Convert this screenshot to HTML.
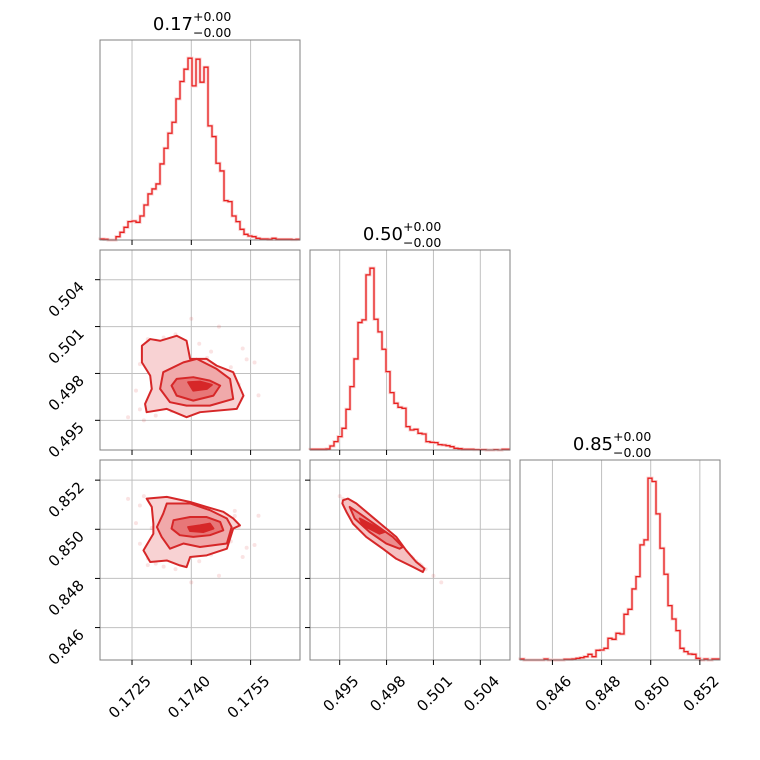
<!DOCTYPE html>
<html><head><meta charset="utf-8"><style>
html,body{margin:0;padding:0;background:#fff;}
svg{display:block;font-family:"DejaVu Sans","Liberation Sans",sans-serif;}
</style></head><body>
<svg id="chart" width="760" height="760" viewBox="0 0 760 760" xmlns="http://www.w3.org/2000/svg">
<rect width="760" height="760" fill="#fff"/>
<g id="layer"></g>
</svg>
<script>
// ---- data ----
const dom1 = [0.17169, 0.17675];
const dom2 = [0.49310, 0.50590];
const dom3 = [0.84468, 0.85282];
const ticks1 = [0.1725, 0.1740, 0.1755];
const ticks2 = [0.495, 0.498, 0.501, 0.504];
const ticks3 = [0.846, 0.848, 0.850, 0.852];
const tickLabels1 = ["0.1725", "0.1740", "0.1755"];
const tickLabels2 = ["0.495", "0.498", "0.501", "0.504"];
const tickLabels3 = ["0.846", "0.848", "0.850", "0.852"];
const titles = ["0.17", "0.50", "0.85"];
const titleUp = ["+0.00", "+0.00", "+0.00"];
const titleDown = ["\u22120.00", "\u22120.00", "\u22120.00"];
const hist1 = [3,2,0,0,10,23,38,55,57,53,72,105,138,153,168,228,275,320,353,423,475,512,545,462,542,473,518,342,310,230,207,118,115,72,55,32,17,12,10,5,3,3,2,5,2,2,2,2,1,2];
const hist2 = [2,2,2,2,3,12,25,40,65,122,190,273,382,390,525,545,392,354,302,235,172,140,128,125,70,60,62,50,48,25,23,22,16,15,13,10,5,4,2,2,2,1,1,1,0,0,1,0,2,2];
const hist3 = [3,0,0,0,0,0,3,0,0,0,0,2,2,3,5,7,10,17,10,29,30,35,65,62,80,78,137,152,213,250,345,360,545,535,438,335,257,163,123,88,35,25,18,17,5,0,3,0,3,3];
const s1 = [.1728,.1731,.1735,.1738,.1742,.1745,.1748,.1751,.1733,.1740,.1744,.1737,.1747,.1752,.1730,.1736,.1741,.1749,.1743,.1739,.1734,.1746,.1750,.1727,.1732,.1744,.1738,.1753,.1742,.1729,.1736,.1747,.1740,.1757,.1726,.1745,.1735,.1741,.1749,.1731,.1733,.1729,.1736,.1751,.1754,.1731,.1727,.1745,.1738,.1756,.1724,.1734,.1748,.1742];
const s2 = [.4950,.4953,.4956,.4958,.4960,.4962,.4964,.4965,.4967,.4968,.4970,.4971,.4972,.4973,.4974,.4975,.4976,.4977,.4978,.4979,.4980,.4982,.4984,.4986,.4988,.4990,.4993,.4996,.4999,.5002,.5005,.5010,.5015,.4966,.4969,.4974,.4978,.4981,.4963,.4970,.5003,.4997,.4985,.4961,.4989,.5001,.4957,.4994,.4983,.4987,.4952,.4991,.4968,.4976];
const s3 = [.85135,.85119,.85103,.85092,.85081,.85070,.85059,.85054,.85043,.85038,.85027,.85022,.85016,.85011,.85005,.85000,.84995,.84989,.84984,.84978,.84973,.84962,.84951,.84941,.84930,.84919,.84903,.84887,.84870,.84854,.84838,.84811,.84784,.85055,.85025,.85012,.84976,.84975,.85058,.85035,.84848,.84881,.84946,.85075,.84925,.84860,.85097,.84897,.84957,.84936,.85124,.84914,.85040,.84992];
const cA_outer = [[.17275,.49977],[.17296,.50020],[.17321,.50009],[.17363,.50041],[.17388,.50009],[.17397,.49893],[.17439,.49893],[.17464,.49850],[.17506,.49808],[.17532,.49658],[.17515,.49573],[.17422,.49552],[.17388,.49520],[.17338,.49573],[.17287,.49552],[.17283,.49605],[.17300,.49701],[.17296,.49786],[.17275,.49871]];
const cA_mid = [[.17329,.49808],[.17380,.49871],[.17414,.49893],[.17464,.49829],[.17498,.49765],[.17506,.49637],[.17447,.49594],[.17388,.49594],[.17346,.49616],[.17321,.49701]];
const cA_in = [[.17363,.49765],[.17405,.49776],[.17447,.49754],[.17473,.49722],[.17456,.49658],[.17405,.49626],[.17363,.49658],[.17350,.49722]];
const cA_core = [[.17392,.49744],[.17422,.49748],[.17452,.49727],[.17439,.49701],[.17405,.49690]];
const cB_outer = [[.17287,.85125],[.17338,.85132],[.17397,.85111],[.17439,.85091],[.17481,.85071],[.17506,.85044],[.17523,.85016],[.17506,.85003],[.17490,.84921],[.17439,.84894],[.17397,.84887],[.17388,.84846],[.17371,.84853],[.17338,.84873],[.17296,.84867],[.17279,.84914],[.17304,.84982],[.17304,.85023],[.17300,.85091]];
const cB_mid = [[.17338,.85105],[.17397,.85105],[.17447,.85078],[.17490,.85044],[.17502,.85009],[.17490,.84942],[.17422,.84928],[.17380,.84942],[.17346,.84921],[.17325,.84969],[.17313,.85009],[.17329,.85064]];
const cB_in = [[.17355,.85037],[.17397,.85050],[.17439,.85050],[.17473,.85030],[.17481,.84996],[.17447,.84976],[.17405,.84969],[.17371,.84976],[.17350,.85003]];
const cB_core = [[.17392,.85009],[.17422,.85016],[.17447,.85023],[.17456,.85003],[.17430,.84989],[.17397,.84993]];
const cC_outer = [[.49521,.85118],[.49553,.85125],[.49607,.85105],[.49734,.85037],[.49862,.84969],[.49926,.84914],[.49990,.84867],[.50043,.84840],[.50032,.84826],[.49968,.84847],[.49862,.84880],[.49776,.84921],[.49670,.84969],[.49585,.85023],[.49543,.85071],[.49517,.85105]];
const cC_in = [[.49564,.85091],[.49628,.85064],[.49734,.85016],[.49840,.84969],[.49904,.84928],[.49883,.84921],[.49798,.84942],[.49691,.84989],[.49596,.85044]];
const cC_core = [[.49628,.85044],[.49734,.85009],[.49787,.84989],[.49755,.84982],[.49649,.85016]];

// ---- layout ----
const NS = "http://www.w3.org/2000/svg";
const layer = document.getElementById("layer");
const colX = [100, 310, 520], rowY = [40, 250, 460], S = 200;
const doms = [dom1, dom2, dom3];
const ticks = [ticks1, ticks2, ticks3];
const tlabels = [tickLabels1, tickLabels2, tickLabels3];
const RED = "#d62728";
function xs(c, v) { const d = doms[c]; return colX[c] + (v - d[0]) / (d[1] - d[0]) * S; }
function ys(r, v) { const d = doms[r]; return rowY[r] + S - (v - d[0]) / (d[1] - d[0]) * S; }
function mk(tag, attrs, parent) {
  const e = document.createElementNS(NS, tag);
  for (const k in attrs) e.setAttribute(k, attrs[k]);
  (parent || layer).appendChild(e);
  return e;
}

const panels = [[0,0],[1,0],[1,1],[2,0],[2,1],[2,2]];
panels.forEach(([r, c]) => {
  const g = mk("g", {});
  
  
  const bg = mk("rect", {x: colX[c], y: rowY[r], width: S, height: S, fill: "#fff"}, g);
  
  
  ticks[c].forEach(t => {
    const gl = mk("line", {x1: xs(c, t), x2: xs(c, t), y1: rowY[r], y2: rowY[r] + S, stroke: "#c0c0c0", "stroke-width": 1}, g);
    
    
  });
  if (r !== c) {
    ticks[r].forEach(t => {
      const gl = mk("line", {x1: colX[c], x2: colX[c] + S, y1: ys(r, t), y2: ys(r, t), stroke: "#c0c0c0", "stroke-width": 1}, g);
      
      
    });
  }
});

function drawHist(i, counts) {
  const d = doms[i], n = counts.length, bw = (d[1] - d[0]) / n;
  const mx = Math.max(...counts) * 1.1;
  const base = rowY[i] + S;
  const hy = v => base - v / mx * S;
  let p = "M" + xs(i, d[0]) + "," + base;
  counts.forEach((v, k) => {
    const xa = xs(i, d[0] + k * bw), xb = xs(i, d[0] + (k + 1) * bw);
    p += " L" + xa + "," + hy(v) + " L" + xb + "," + hy(v);
  });
  const halo = mk("path", {d: p, fill: "none", stroke: "#f8cccc", "stroke-width": 3});
  
  
  const line = mk("path", {d: p, fill: "none", stroke: "#e8201f", "stroke-width": 1.3});
  
  
}
drawHist(0, hist1); drawHist(1, hist2); drawHist(2, hist3);

const samples = [s1, s2, s3];
function drawScatter(r, c) {
  const a = samples[c], b = samples[r];
  for (let k = 0; k < a.length; k++) {
    const pt = mk("circle", {cx: xs(c, a[k]), cy: ys(r, b[k]), r: 2, fill: RED, "fill-opacity": 0.13});
    
    
  }
}
function drawContour(r, c, pts, fill, name) {
  const p = pts.map((q, k) => (k ? "L" : "M") + xs(c, q[0]) + "," + ys(r, q[1])).join(" ") + "Z";
  const e = mk("path", {d: p, fill: fill, stroke: RED, "stroke-width": 2, "stroke-linejoin": "round"});
  
  
}
drawScatter(1, 0); drawScatter(2, 0); drawScatter(2, 1);
drawContour(1, 0, cA_outer, "#f8d2d3", "contour-outer-p1-p2");
drawContour(1, 0, cA_mid, "#f0a9aa", "contour-mid-p1-p2");
drawContour(1, 0, cA_in, "#e77778", "contour-inner-p1-p2");
drawContour(1, 0, cA_core, RED, "contour-core-p1-p2");
drawContour(2, 0, cB_outer, "#f8d2d3", "contour-outer-p1-p3");
drawContour(2, 0, cB_mid, "#f0a9aa", "contour-mid-p1-p3");
drawContour(2, 0, cB_in, "#e77778", "contour-inner-p1-p3");
drawContour(2, 0, cB_core, RED, "contour-core-p1-p3");
drawContour(2, 1, cC_outer, "#f5c0c1", "contour-outer-p2-p3");
drawContour(2, 1, cC_in, "#eb8d8e", "contour-inner-p2-p3");
drawContour(2, 1, cC_core, RED, "contour-core-p2-p3");

panels.forEach(([r, c]) => {
  const fr = mk("rect", {x: colX[c], y: rowY[r], width: S, height: S, fill: "none", stroke: "#808080", "stroke-width": 1});
  
  
  ticks[c].forEach((t, k) => {
    const tm = mk("line", {x1: xs(c, t), x2: xs(c, t), y1: rowY[r] + S, y2: rowY[r] + S + 5, stroke: "#000", "stroke-width": 1});
    
    
    if (r === 2) {
      const x = xs(c, t) + 20, y = rowY[r] + S + 22;
      const tl = mk("text", {x: x, y: y, "text-anchor": "end", "font-size": 15, fill: "#000", transform: "rotate(-45 " + x + " " + y + ")"});
      tl.textContent = tlabels[c][k];
      
      
    }
  });
  if (r !== c) {
    ticks[r].forEach((t, k) => {
      const tm = mk("line", {x1: colX[c] - 5, x2: colX[c], y1: ys(r, t), y2: ys(r, t), stroke: "#000", "stroke-width": 1});
      
      
      if (c === 0) {
        const x = colX[c] - 15, y = ys(r, t) + 8;
        const tl = mk("text", {x: x, y: y, "text-anchor": "end", "font-size": 15, fill: "#000", transform: "rotate(-45 " + x + " " + y + ")"});
        tl.textContent = tlabels[r][k];
        
        
      }
    });
  }
});

titles.forEach((t, i) => {
  const cx = colX[i] + S / 2, top = rowY[i];
  const m = mk("text", {x: cx - 7, y: top - 10, "text-anchor": "end", "font-size": 18, fill: "#000"});
  m.textContent = t;
  
  
  const u = mk("text", {x: cx - 7, y: top - 19, "font-size": 12.5, fill: "#000"});
  u.textContent = titleUp[i];
  
  
  const dn = mk("text", {x: cx - 7, y: top - 3, "font-size": 12.5, fill: "#000"});
  dn.textContent = titleDown[i];
  
  
});
</script>
</body></html>
